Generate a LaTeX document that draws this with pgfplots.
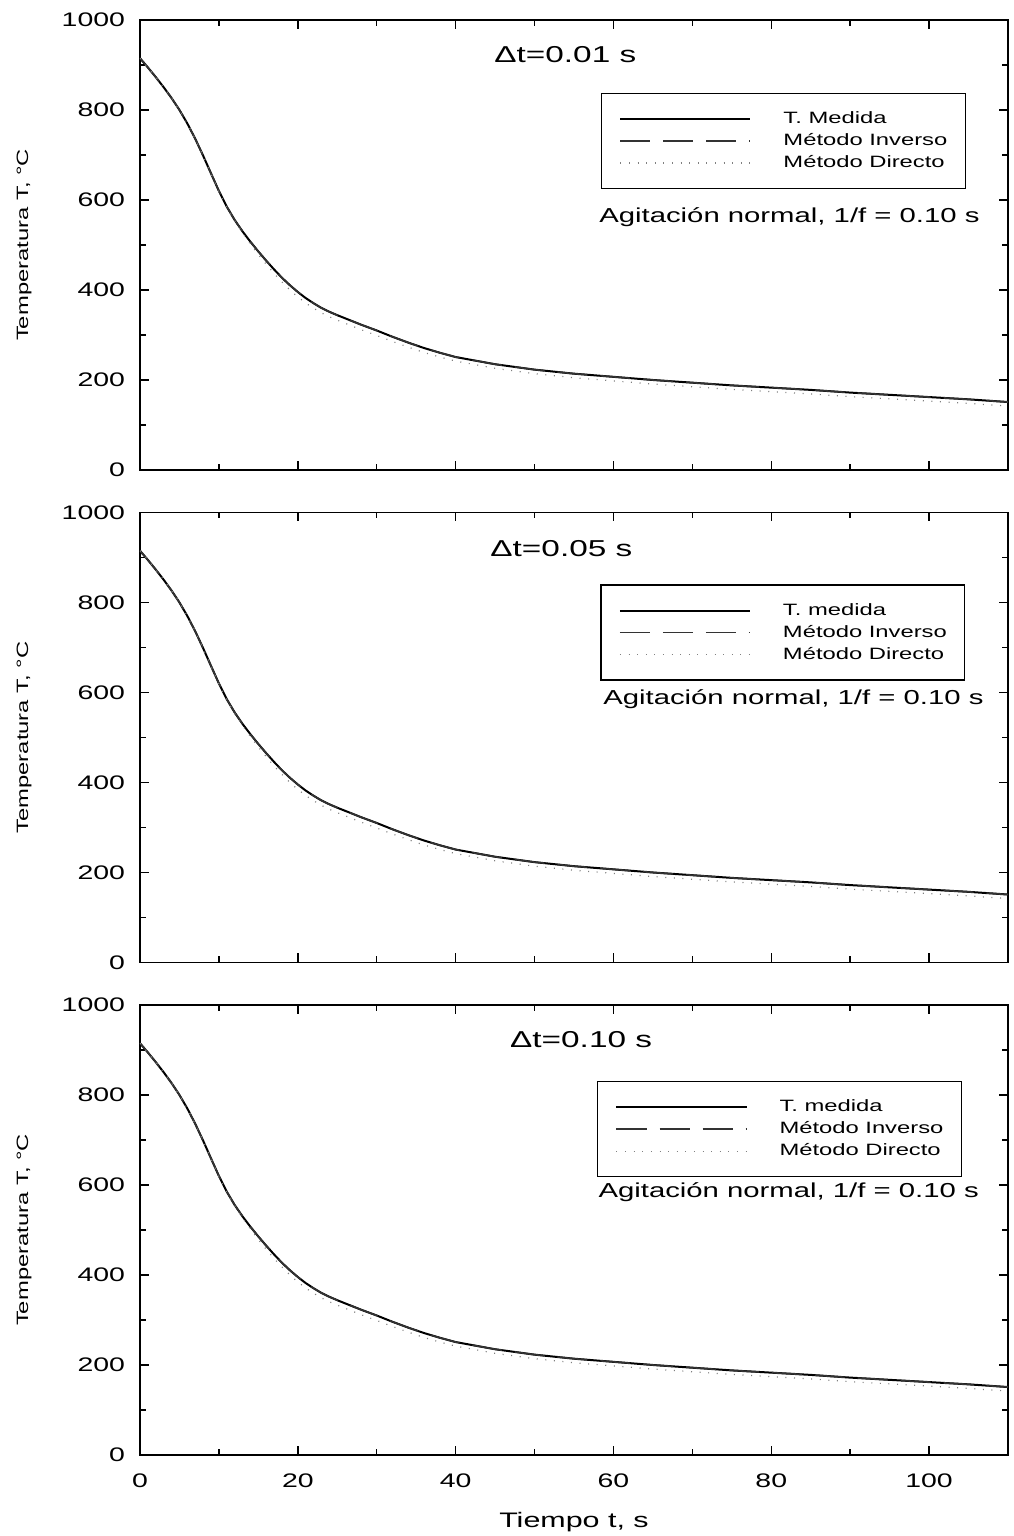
\documentclass[border=0pt]{standalone}
\usepackage{fontspec}
\setmainfont[FakeStretch=1.45]{Liberation Sans}
\usepackage{pgfplots}
\usepackage{pgfplotstable}
\pgfplotsset{compat=1.18}

% measured temperature (inverse method follows it almost exactly)
\pgfplotstableread{
t   T
0   915
1   894.5
2   873
3   850.5
4   826.5
5   800
6   770
7   736
8   698.5
9   659
10  620
11  585
12  555.5
13  530
14  507
15  485.5
16  465
17  445.5
18  427
19  410.5
20  395.5
21  382
22  370.5
23  360
24  351.5
25  344
26  337
27  330
28  323
29  316.5
30  310
32  296
34  283
36  271
38  260.5
40  251
45  235
50  223
55  214
60  207
65  200
70  194
75  188
80  183
85  178
90  172
95  167
100 162
105 157
110 151
}\medida

\pgfplotstableread{
t   T
0   915
1   894.5
2   873
3   850.5
4   826.5
5   800
6   770
7   736
8   698.5
9   659
10  620
11  585
12  555.5
13  530
14  507
15  485.5
16  465
17  445.5
18  427
19  410.5
20  395.5
21  382
22  370.5
23  360
24  351.5
25  344
26  337
27  330
28  323
29  316.5
30  310
32  296
34  283
36  271
38  260.5
40  251
45  235
50  223
55  214
60  207
65  200
70  194
75  188
80  183
85  178
90  172
95  167
100 162
105 157
110 151
}\inverso

\pgfplotstableread{
t   T
0   915
1   894.5
2   873
3   850.5
4   826.5
5   800
6   770
7   736
8   698
9   658
10  619
11  583.5
12  553
13  526.5
14  502
15  479
16  457
17  436.5
18  417.5
19  400
20  384.5
21  371
22  359.5
23  349
24  340.5
25  333
26  326
27  319
28  312
29  305.5
30  299
32  285.5
34  273
36  261
38  251
40  242
45  226
50  214
55  205
60  198
65  191
70  185
75  179
80  174
85  169
90  163
95  158
100 153
105 148
110 142
}\directo

\pgfplotsset{
  panel/.style={
    scale only axis, width=434pt, height=225pt,
    xmin=0, xmax=110, ymin=0, ymax=1000,
    xtick={0,20,...,100}, ytick={0,200,...,1000},
    minor x tick num=1, minor y tick num=1,
    tick align=inside, major tick length=4.5pt, minor tick length=3pt,
    axis line style={line width=0.8pt},
    every tick/.style={black, line width=0.7pt},
    tick label style={font=\fontsize{9.8}{11}\selectfont},
    xticklabel style={yshift=-6pt},
    yticklabel style={xshift=-4pt},
    /pgf/number format/assume math mode=true,
    /pgf/number format/set thousands separator={},
    ylabel={Temperatura T, °C},
    every axis y label/.style={at={(axis description cs:-0.1336,0.5)}, rotate=90,
      anchor=center, font=\fontsize{8.2}{9}\selectfont},
    legend image code/.code={\draw[##1] (0pt,0pt) -- (65pt,0pt);},
    legend style={draw=black, line width=0.6pt, anchor=north east,
      font=\fontsize{8.2}{9}\selectfont, cells={anchor=west},
      nodes={inner sep=0pt, text height=6pt, text depth=1.5pt},
      row sep=3.5pt, inner xsep=9pt, inner ysep=9pt,
      /tikz/every odd column/.append style={column sep=16pt}},
  },
  medida/.style={black, line width=1pt},
  inverso/.style={black!80, line width=0.8pt, dash pattern=on 15pt off 6.5pt},
  directo/.style={gray, line width=0.6pt, dash pattern=on 0.5pt off 3.8pt},
}

\begin{document}
\begin{tikzpicture}
\path[use as bounding box] (-70pt,-40.5pt) rectangle (436.5pt,727.5pt);

% top panel
\begin{axis}[panel, at={(0,492.5pt)}, xticklabels={},
  legend style={at={(rel axis cs:0.9516,0.838)}}]
\addplot[medida] table[x=t,y=T]{\medida};
\addplot[inverso] table[x=t,y=T]{\inverso};
\addplot[directo] table[x=t,y=T]{\directo};
\legend{T. Medida, Método Inverso, Método Directo}
\node[font=\fontsize{11.5}{13}\selectfont] at (axis cs:53.9,922) {Δt=0.01 s};
\node[font=\fontsize{10.1}{12}\selectfont, anchor=base] at (axis cs:82.3,551) {Agitación normal, 1/f = 0.10 s};
\end{axis}

% middle panel
\begin{axis}[panel, at={(0,246.25pt)}, xticklabels={},
  legend style={at={(rel axis cs:0.951,0.84)}}]
\addplot[medida] table[x=t,y=T]{\medida};
\addplot[inverso] table[x=t,y=T]{\inverso};
\addplot[directo] table[x=t,y=T]{\directo};
\legend{T. medida, Método Inverso, Método Directo}
\node[font=\fontsize{11.5}{13}\selectfont] at (axis cs:53.4,920) {Δt=0.05 s};
\node[font=\fontsize{10.1}{12}\selectfont, anchor=base] at (axis cs:82.8,573) {Agitación normal, 1/f = 0.10 s};
\end{axis}

% bottom panel
\begin{axis}[panel, at={(0,0)},
  xlabel={Tiempo t, s},
  every axis x label/.style={at={(axis description cs:0.5,0)}, yshift=-36pt,
    anchor=base, font=\fontsize{10.5}{12}\selectfont},
  legend style={at={(rel axis cs:0.947,0.831)}}]
\addplot[medida] table[x=t,y=T]{\medida};
\addplot[inverso] table[x=t,y=T]{\inverso};
\addplot[directo] table[x=t,y=T]{\directo};
\legend{T. medida, Método Inverso, Método Directo}
\node[font=\fontsize{11.5}{13}\selectfont] at (axis cs:55.9,924) {Δt=0.10 s};
\node[font=\fontsize{10.1}{12}\selectfont, anchor=base] at (axis cs:82.2,573) {Agitación normal, 1/f = 0.10 s};
\end{axis}
\end{tikzpicture}
\end{document}
